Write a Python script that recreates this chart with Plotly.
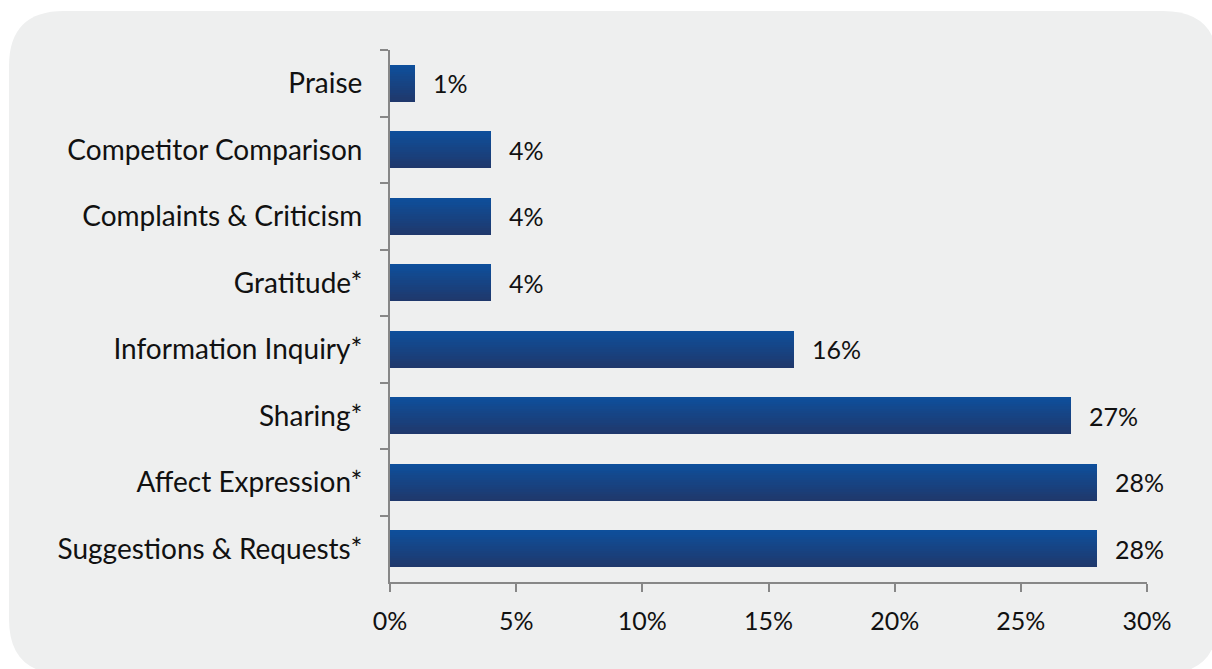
import plotly.graph_objects as go

# Share of posts by category (percent)
categories = [
    "Praise",
    "Competitor Comparison",
    "Complaints & Criticism",
    "Gratitude*",
    "Information Inquiry*",
    "Sharing*",
    "Affect Expression*",
    "Suggestions & Requests*",
]
values = [1, 4, 4, 4, 16, 27, 28, 28]
x_ticks = [0, 5, 10, 15, 20, 25, 30]

W, H = 1212, 669
ML, MR, MT, MB = 390, 65, 50, 87
PW, PH = W - ML - MR, H - MT - MB

FONT = "Lato"
TEXT_COLOR = "#111111"
CAT_SIZE = 28
NUM_SIZE = 25
TOP_RGB = (14, 79, 155)
BOT_RGB = (31, 56, 108)
BAR_W = 0.56
N_STRIPES = 16

fig = go.Figure()

# Vertical gradient built from thin horizontal stripes of each bar
step = BAR_W / N_STRIPES
for i in range(N_STRIPES):
    t = i / (N_STRIPES - 1)
    r, g, b = (round(a + (c - a) * t) for a, c in zip(TOP_RGB, BOT_RGB))
    w = step * (1.0 if i == N_STRIPES - 1 else 1.08)
    fig.add_trace(go.Bar(
        x=values, y=categories, orientation="h",
        width=[w] * len(values),
        offset=[-BAR_W / 2 + i * step] * len(values),
        marker=dict(color=f"rgb({r},{g},{b})", line=dict(width=0)),
        hoverinfo="skip" if i else "x+y",
        showlegend=False,
    ))

# Value labels to the right of each bar
for cat, v in zip(categories, values):
    fig.add_annotation(
        x=v, y=cat, text=f"{v}%", showarrow=False,
        xanchor="left", yanchor="middle", xshift=16,
        font=dict(family=FONT, size=NUM_SIZE, color=TEXT_COLOR),
    )


def px_to_paper(px, py):
    return (px - ML) / PW, (H - MB - py) / PH


def rounded_rect(x0, y0, x1, y1, r):
    pts = [
        ("M", x0 + r, y0), ("L", x1 - r, y0), ("Q", x1, y0, x1, y0 + r),
        ("L", x1, y1 - r), ("Q", x1, y1, x1 - r, y1),
        ("L", x0 + r, y1), ("Q", x0, y1, x0, y1 - r),
        ("L", x0, y0 + r), ("Q", x0, y0, x0 + r, y0),
    ]
    parts = []
    for p in pts:
        cmd, coords = p[0], p[1:]
        conv = []
        for j in range(0, len(coords), 2):
            a, b = px_to_paper(coords[j], coords[j + 1])
            conv.append(f"{a:.5f},{b:.5f}")
        parts.append(cmd + " " + " ".join(conv))
    return " ".join(parts) + " Z"


# Panel behind the chart
fig.add_shape(
    type="path", xref="paper", yref="paper", layer="below",
    path=rounded_rect(9, 11, 1218, 674, 55),
    fillcolor="#eeefef", line=dict(width=0),
)

axis_color = "#878787"
fig.update_layout(
    width=W, height=H,
    margin=dict(l=ML, r=MR, t=MT, b=MB, pad=0),
    paper_bgcolor="white", plot_bgcolor="rgba(0,0,0,0)",
    barmode="overlay", bargap=0,
    font=dict(family=FONT, size=CAT_SIZE, color=TEXT_COLOR),
    xaxis=dict(
        range=[0, 30], tickvals=x_ticks, ticktext=[f"{t}%" for t in x_ticks],
        showgrid=False, zeroline=False,
        showline=True, linecolor=axis_color, linewidth=2,
        ticks="outside", ticklen=8, tickwidth=2, tickcolor=axis_color,
        ticklabelstandoff=8,
        tickfont=dict(family=FONT, size=NUM_SIZE, color=TEXT_COLOR),
    ),
    yaxis=dict(
        categoryorder="array", categoryarray=categories,
        autorange="reversed",
        showgrid=False, zeroline=False,
        showline=True, linecolor=axis_color, linewidth=2,
        ticks="outside", ticklen=8, tickwidth=2, tickcolor=axis_color,
        tickson="boundaries", ticklabelstandoff=20,
        tickfont=dict(family=FONT, size=CAT_SIZE, color=TEXT_COLOR),
    ),
)

fig.write_html("out.html")
